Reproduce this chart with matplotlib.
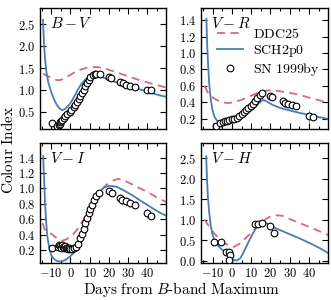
import matplotlib
matplotlib.use('Agg')
import matplotlib.pyplot as plt
from matplotlib.ticker import MultipleLocator, FuncFormatter

plt.rcParams['mathtext.fontset'] = 'cm'
plt.rcParams['font.family'] = ['DejaVu Serif']

# ---------------- data ----------------
panel_labels = [r'$B-V$', r'$V-R$', r'$V-I$', r'$V-H$']

# B-V
bv_sch_day = [-14.3, -13.8, -13.3, -12.5, -11.4, -10.0, -8.6, -7.0, -5.5, -4.3, -3.0, -1.5, 0.0, 1.5,
              3.5, 5.5, 7.8, 10.0, 12.5, 14.5, 17.0, 20.0, 24.2, 28.0, 32.8, 37.0, 41.5, 46.0, 50.0]
bv_sch_val = [2.60, 2.10, 1.75, 1.40, 1.15, 0.95, 0.79, 0.65, 0.57, 0.54, 0.56, 0.62, 0.70, 0.81,
              0.98, 1.13, 1.24, 1.30, 1.33, 1.32, 1.28, 1.23, 1.17, 1.11, 1.06, 1.00, 0.94, 0.88, 0.84]
bv_ddc_day = [-14.3, -12.0, -9.0, -6.5, -4.0, -1.0, 2.0, 5.0, 8.0, 11.0, 14.0, 17.0, 22.0, 28.0,
              34.0, 40.0, 45.0, 50.0]
bv_ddc_val = [1.37, 1.32, 1.25, 1.22, 1.24, 1.32, 1.40, 1.46, 1.50, 1.52, 1.52, 1.50, 1.43, 1.34,
              1.25, 1.17, 1.11, 1.05]
bv_obs_day = [-9.6, -6.8, -6.0, -5.6, -5.2, -4.7, -4.3, -3.5, -2.6, -1.7, -0.5, 0.5, 1.7, 2.6, 3.5,
              4.3, 5.2, 6.0, 6.9, 7.8, 8.6, 9.5, 10.4, 11.7, 12.6, 13.5, 15.2, 19.9, 21.1, 25.9,
              27.3, 29.0, 30.7, 33.7, 39.7, 42.0]
bv_obs_val = [0.24, 0.17, 0.20, 0.23, 0.26, 0.29, 0.32, 0.36, 0.40, 0.45, 0.49, 0.55, 0.61, 0.66,
              0.73, 0.79, 0.87, 0.93, 1.00, 1.08, 1.15, 1.23, 1.30, 1.35, 1.36, 1.37, 1.36, 1.30,
              1.27, 1.18, 1.15, 1.12, 1.09, 1.06, 1.00, 1.00]
bv_obs_err = [0, 0, 0, 0, 0, 0, 0, 0, 0, 0, 0, 0, 0, 0, 0, 0, 0, 0, 0, 0, 0, 0, 0, 0, 0, 0, 0, 0,
              0, 0.03, 0.07, 0.03, 0.03, 0.03, 0.05, 0.03]

# V-R
vr_sch_day = [-13.2, -12.8, -12.3, -11.8, -11.0, -10.1, -9.0, -7.5, -5.5, -3.0, 0.0, 3.0, 6.0, 9.0,
              12.0, 14.5, 16.3, 18.0, 21.0, 25.0, 30.0, 35.0, 40.0, 45.0, 50.0]
vr_sch_val = [1.42, 1.10, 0.85, 0.64, 0.45, 0.31, 0.22, 0.17, 0.155, 0.16, 0.175, 0.20, 0.23, 0.28,
              0.34, 0.40, 0.43, 0.41, 0.37, 0.33, 0.30, 0.27, 0.245, 0.22, 0.195]
vr_ddc_day = [-14.3, -12.0, -10.0, -8.0, -5.0, -2.0, 1.0, 5.0, 9.0, 13.0, 16.0, 19.0, 23.0, 29.0,
              35.0, 41.0, 46.0, 50.0]
vr_ddc_val = [0.60, 0.50, 0.46, 0.43, 0.40, 0.39, 0.40, 0.43, 0.47, 0.51, 0.535, 0.545, 0.54, 0.52,
              0.49, 0.45, 0.42, 0.395]
vr_obs_day = [-8.4, -5.9, -4.7, -3.6, -2.4, -1.3, 0.1, 1.3, 2.7, 3.8, 5.2, 6.4, 7.4, 8.6, 9.8, 10.8,
              12.0, 13.2, 14.5, 15.8, 19.7, 20.8, 26.5, 27.3, 29.3, 31.1, 33.3, 40.1, 42.1]
vr_obs_val = [0.115, 0.147, 0.155, 0.167, 0.17, 0.18, 0.19, 0.196, 0.21, 0.23, 0.26, 0.28, 0.30,
              0.33, 0.36, 0.38, 0.41, 0.45, 0.49, 0.51, 0.48, 0.46, 0.41, 0.39, 0.38, 0.37, 0.35,
              0.23, 0.22]
vr_obs_err = [0, 0, 0, 0, 0, 0, 0, 0, 0, 0, 0, 0, 0, 0, 0, 0, 0, 0, 0, 0, 0, 0, 0.03, 0.05, 0.03,
              0.03, 0.03, 0.08, 0.03]

# V-I
vi_sch_day = [-14.2, -13.7, -13.2, -12.6, -12.0, -11.0, -10.0, -8.5, -7.0, -5.5, -4.0, -2.0, 0.0,
              2.0, 3.5, 5.0, 6.5, 8.0, 9.5, 11.0, 13.0, 15.0, 17.3, 20.0, 22.0, 24.5, 28.0, 32.8,
              37.0, 41.5, 46.0, 50.0]
vi_sch_val = [1.42, 1.10, 0.80, 0.55, 0.37, 0.22, 0.13, 0.08, 0.055, 0.05, 0.055, 0.08, 0.12, 0.17,
              0.22, 0.29, 0.38, 0.48, 0.60, 0.72, 0.86, 0.95, 1.01, 1.03, 1.03, 1.015, 0.97, 0.90,
              0.83, 0.76, 0.69, 0.64]
vi_ddc_day = [-14.6, -13.5, -12.0, -10.0, -8.0, -6.0, -4.0, -2.0, 0.0, 3.0, 6.0, 9.0, 12.0, 15.0,
              18.0, 21.0, 24.0, 26.0, 29.0, 33.0, 37.0, 41.0, 45.0, 50.0]
vi_ddc_val = [0.55, 0.47, 0.43, 0.41, 0.37, 0.33, 0.32, 0.34, 0.37, 0.45, 0.56, 0.70, 0.84, 0.95,
              1.03, 1.09, 1.12, 1.12, 1.09, 1.04, 0.99, 0.94, 0.88, 0.82]
vi_obs_day = [-9.5, -6.5, -6.0, -5.5, -5.0, -4.5, -4.0, -3.5, -3.0, -2.5, -2.0, -1.5, -1.0, 0.0, 1.0,
              2.0, 3.0, 4.0, 5.2, 6.0, 6.9, 7.8, 8.6, 9.5, 10.4, 11.2, 12.4, 13.5, 15.0, 19.9,
              21.6, 25.9, 26.8, 29.0, 31.1, 33.7, 39.7, 42.0]
vi_obs_val = [0.23, 0.24, 0.26, 0.25, 0.23, 0.26, 0.24, 0.22, 0.25, 0.23, 0.22, 0.21, 0.22, 0.21,
              0.21, 0.22, 0.24, 0.28, 0.35, 0.41, 0.47, 0.55, 0.61, 0.68, 0.73, 0.78, 0.85, 0.90,
              0.94, 0.96, 0.94, 0.88, 0.85, 0.83, 0.81, 0.79, 0.68, 0.64]
vi_obs_err = [0] * 31 + [0.05, 0.06, 0.06, 0.05, 0.04, 0.06, 0.03]

# V-H
vh_sch_day = [-13.3, -12.9, -12.4, -11.8, -11.0, -10.1, -9.0, -7.6, -5.5, -3.5, -2.0, -0.5, 1.0,
              2.5, 4.3, 6.5, 8.6, 10.8, 12.9, 15.0, 17.0, 19.0, 23.0, 29.0, 35.0, 41.0, 46.0, 50.0]
vh_sch_val = [2.55, 2.00, 1.55, 1.20, 0.88, 0.65, 0.50, 0.39, 0.29, 0.22, 0.16, 0.07, 0.02, 0.01,
              0.06, 0.25, 0.46, 0.66, 0.83, 0.92, 0.94, 0.89, 0.79, 0.67, 0.55, 0.42, 0.30, 0.19]
vh_ddc_day = [-14.3, -12.0, -10.0, -8.4, -6.0, -4.0, -1.6, 1.0, 4.0, 7.0, 10.0, 13.0, 16.0, 18.0,
              20.5, 23.0, 26.0, 30.0, 35.8, 41.0, 46.0, 50.0]
vh_ddc_val = [1.01, 0.85, 0.72, 0.63, 0.52, 0.44, 0.38, 0.34, 0.42, 0.55, 0.68, 0.83, 0.96, 1.03,
              1.10, 1.11, 1.10, 1.02, 0.91, 0.81, 0.71, 0.63]
vh_obs_day = [-9.2, -5.4, -2.8, -1.3, -0.8, -1.6, 12.0, 13.7, 15.4, 19.7, 21.9]
vh_obs_val = [0.46, 0.46, 0.22, 0.22, 0.14, 0.03, 0.89, 0.91, 0.93, 0.85, 0.67]

x_ticks = [-10, 0, 10, 20, 30, 40]
ylims = [(0.12, 2.87), (0.08, 1.55), (0.03, 1.59), (-0.05, 2.87)]
ymajor = [0.5, 0.2, 0.2, 0.5]

panels = [
    (bv_sch_day, bv_sch_val, bv_ddc_day, bv_ddc_val, bv_obs_day, bv_obs_val, bv_obs_err),
    (vr_sch_day, vr_sch_val, vr_ddc_day, vr_ddc_val, vr_obs_day, vr_obs_val, vr_obs_err),
    (vi_sch_day, vi_sch_val, vi_ddc_day, vi_ddc_val, vi_obs_day, vi_obs_val, vi_obs_err),
    (vh_sch_day, vh_sch_val, vh_ddc_day, vh_ddc_val, vh_obs_day, vh_obs_val, None),
]

BLUE = '#4A7DB5'
PINK = '#D5687D'

W, H = 331, 300
fig = plt.figure(figsize=(W / 100, H / 100), dpi=100)
rects = [
    (39.7 / W, 1 - 128.5 / H, 126.6 / W, 120.5 / H),
    (201 / W, 1 - 128.5 / H, 127 / W, 120.5 / H),
    (39.7 / W, 1 - 263 / H, 126.6 / W, 120 / H),
    (201 / W, 1 - 263 / H, 127 / W, 120 / H),
]

xfmt = FuncFormatter(lambda v, p: r'$%d$' % round(v))
yfmt = FuncFormatter(lambda v, p: r'$%.1f$' % v)

for i, (sd, sv, dd, dv, od, ov, oe) in enumerate(panels):
    ax = fig.add_axes(rects[i])
    l1, = ax.plot(dd, dv, color=PINK, lw=1.3, dashes=(4.5, 3), label=r'$\mathrm{DDC25}$')
    l2, = ax.plot(sd, sv, color=BLUE, lw=1.3, label=r'$\mathrm{SCH2p0}$')
    if oe is not None:
        ax.errorbar(od, ov, yerr=oe, fmt='none', ecolor='#999999', elinewidth=0.8, zorder=3)
    l3, = ax.plot(od, ov, 'o', ms=4.8, mfc='white', mec='black', mew=0.8, zorder=4,
                  label=r'$\mathrm{SN\ 1999by}$')
    ax.set_xlim(-16, 49.8)
    ax.set_ylim(*ylims[i])
    ax.set_xticks(x_ticks)
    ax.xaxis.set_minor_locator(MultipleLocator(5))
    ax.yaxis.set_major_locator(MultipleLocator(ymajor[i]))
    ax.tick_params(which='both', direction='in', top=True, right=True, labelsize=9, pad=3)
    ax.tick_params(which='major', length=4, width=0.8)
    ax.tick_params(which='minor', length=2, width=0.8)
    ax.xaxis.set_major_formatter(xfmt)
    ax.yaxis.set_major_formatter(yfmt)
    for s in ax.spines.values():
        s.set_linewidth(1.0)
    if i < 2:
        ax.tick_params(labelbottom=False)
    ax.text(0.08, 0.93, panel_labels[i], transform=ax.transAxes, fontsize=11,
            ha='left', va='top')
    if i == 1:
        ax.legend(handles=[l1, l2, l3], loc='upper right', frameon=False, fontsize=10,
                  numpoints=1, handlelength=1.9, handletextpad=0.7, labelspacing=0.12,
                  borderaxespad=0.2, bbox_to_anchor=(1.0, 0.91))

fig.text(0.025, 0.5, r'$\mathrm{Colour\ Index}$', rotation=90, ha='center', va='center',
         fontsize=11)
fig.text(0.548, 0.035, r'$\mathrm{Days\ from\ }B\mathrm{\text{-}band\ Maximum}$', ha='center',
         va='center', fontsize=11)

fig.savefig('out.png', dpi=100)
